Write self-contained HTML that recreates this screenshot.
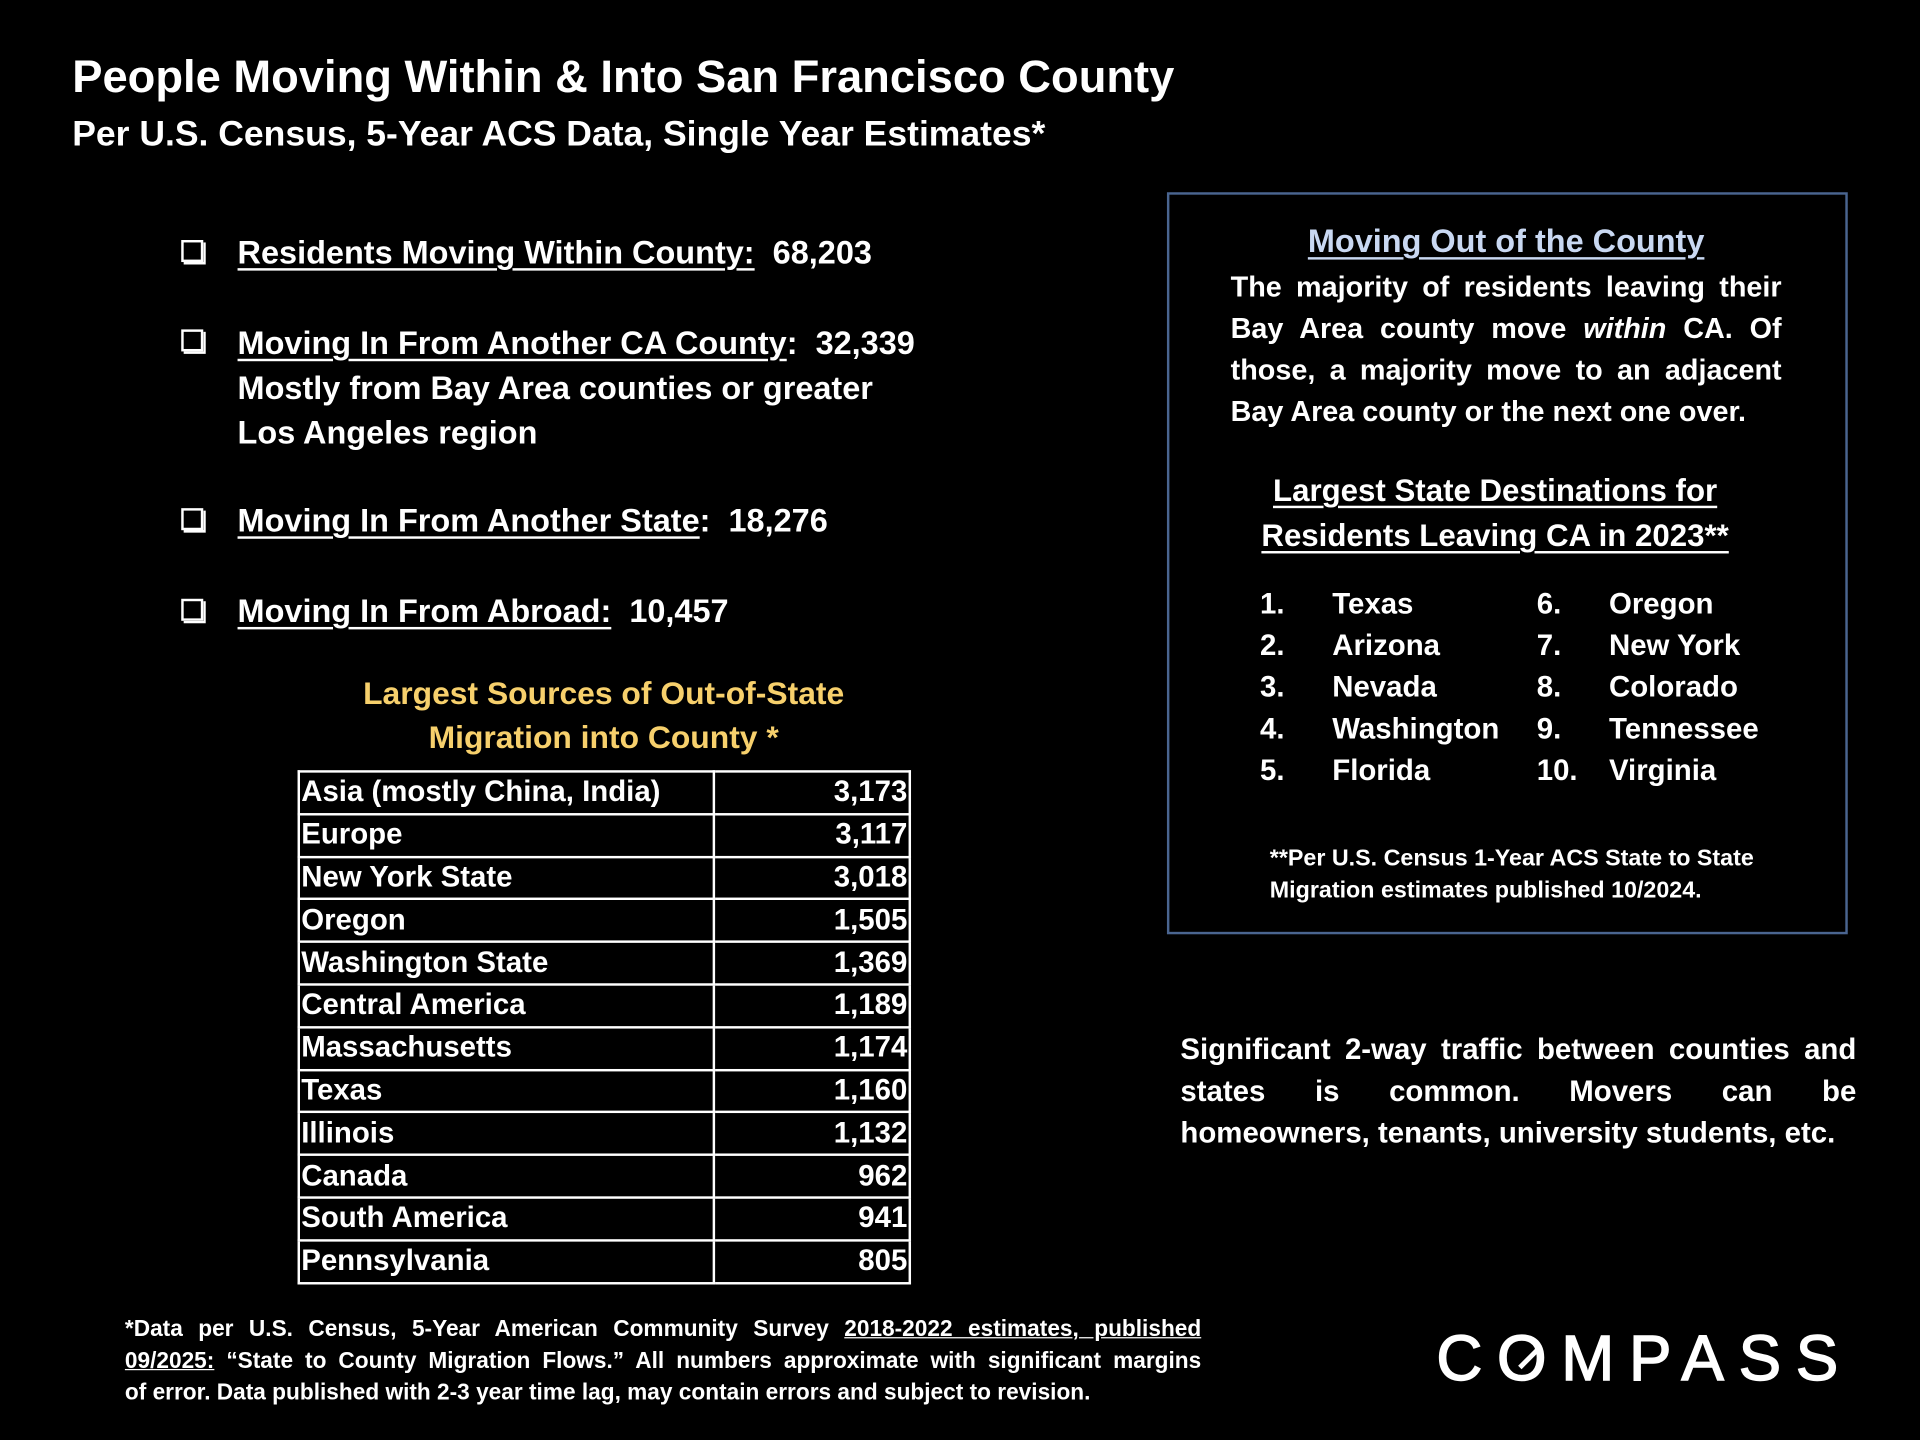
<!DOCTYPE html>
<html><head><meta charset="utf-8">
<style>
html,body{margin:0;padding:0;background:#000;width:1920px;height:1440px;overflow:hidden}
#stage{position:absolute;left:0;top:0;width:1568px;height:1176px;transform:scale(1.22449);transform-origin:0 0;font-family:"Liberation Sans",sans-serif;font-weight:bold;color:#fff}
.a{position:absolute;white-space:nowrap}
.u{text-decoration:underline;text-decoration-thickness:2px;text-underline-offset:4px}
.cb{position:absolute;width:14px;height:14px;border:2px solid #fff;box-shadow:2px 2px 0 #fff}
.jl{text-align:justify;text-align-last:justify;white-space:nowrap}
.ll{text-align:left;white-space:nowrap}
table{border-collapse:collapse}
td{border:2px solid #fff;height:32.8px;padding:0 1px;font-size:24px;line-height:32px}
</style></head><body>
<div id="stage">
<div class="a" style="left:59px;top:42px;font-size:37px">People Moving Within &amp; Into San Francisco County</div>
<div class="a" style="left:59px;top:94px;font-size:29px">Per U.S. Census, 5-Year ACS Data, Single Year Estimates*</div>

<div>
<div class="cb" style="left:148px;top:196px"></div>
<div class="a" style="left:194px;top:191px;font-size:26.5px"><span class="u">Residents Moving Within County:</span>&nbsp; 68,203</div></div>
<div>
<div class="cb" style="left:148px;top:269px"></div>
<div class="a" style="left:194px;top:262px;font-size:26.5px;line-height:36.5px"><span class="u">Moving In From Another CA County</span>:&nbsp; 32,339<br>Mostly from Bay Area counties or greater<br>Los Angeles region</div></div>
<div>
<div class="cb" style="left:148px;top:415px"></div>
<div class="a" style="left:194px;top:410px;font-size:26.5px"><span class="u">Moving In From Another State</span>:&nbsp; 18,276</div></div>
<div>
<div class="cb" style="left:148px;top:489px"></div>
<div class="a" style="left:194px;top:484px;font-size:26.5px"><span class="u">Moving In From Abroad:</span>&nbsp; 10,457</div></div>

<div class="a" style="left:243px;top:548px;width:500px;text-align:center;font-size:26px;line-height:36px;color:#f7d06c">Largest Sources of Out-of-State<br>Migration into County *</div>
<table id="tbl" style="position:absolute;left:243px;top:629px;width:501px"><tbody id="tb"></tbody></table>

<div style="position:absolute;left:953px;top:157px;width:552px;height:602px;border:2px solid #4a6590"></div>
<div class="a u" style="left:1030px;top:182px;width:400px;text-align:center;font-size:26.5px;color:#c9d8f2">Moving Out of the County</div>
<div class="a" style="left:1005px;top:217px;width:450px;font-size:23.5px;line-height:34px">
<div class="jl">The majority of residents leaving their</div>
<div class="jl">Bay Area county move <i>within</i> CA. Of</div>
<div class="jl">those, a majority move to an adjacent</div>
<div class="ll">Bay Area county or the next one over.</div></div>
<div class="a" style="left:1000px;top:383px;width:442px;text-align:center;font-size:25.5px;line-height:37px"><span class="u">Largest State Destinations for</span><br><span class="u">Residents Leaving CA in 2023**</span></div>
<div id="dest"></div>
<div class="a" style="left:1037px;top:689px;font-size:19px;line-height:26px">**Per U.S. Census 1-Year ACS State to State<br>Migration estimates published 10/2024.</div>

<div class="a" style="left:964px;top:841px;width:552px;font-size:24px;line-height:34px">
<div class="jl">Significant 2-way traffic between counties and</div>
<div class="jl">states is common. Movers can be</div>
<div class="ll">homeowners, tenants, university students, etc.</div></div>

<div class="a" style="left:102px;top:1072px;width:879px;font-size:18.5px;line-height:26px">
<div class="jl">*Data per U.S. Census, 5-Year American Community Survey <span style="text-decoration:underline">2018-2022 estimates, published</span></div>
<div class="jl"><span style="text-decoration:underline">09/2025:</span> “State to County Migration Flows.” All numbers approximate with significant margins</div>
<div class="ll">of error. Data published with 2-3 year time lag, may contain errors and subject to revision.</div></div>

<div class="a" style="left:1173px;top:1082px;font-size:52px;font-weight:normal;letter-spacing:12px;line-height:56px;-webkit-text-stroke:1.2px #fff">C<span style="position:relative;display:inline-block">O<span style="position:absolute;left:15px;top:25px;width:22px;height:4px;background:#fff;transform:rotate(-45deg)"></span></span>MPASS</div>
</div>
<script>
const sources=["Asia (mostly China, India)","Europe","New York State","Oregon","Washington State","Central America","Massachusetts","Texas","Illinois","Canada","South America","Pennsylvania"];
const counts=[3173,3117,3018,1505,1369,1189,1174,1160,1132,962,941,805];
const destRanks=[1,2,3,4,5,6,7,8,9,10];
const destStates=["Texas","Arizona","Nevada","Washington","Florida","Oregon","New York","Colorado","Tennessee","Virginia"];
const tb=document.getElementById('tb');
sources.forEach((s,i)=>{
  const tr=document.createElement('tr');
  
  
  const a=document.createElement('td');a.textContent=s;a.style.width='335px';
  
  
  const b=document.createElement('td');b.textContent=counts[i].toLocaleString('en-US');b.style.textAlign='right';
  
  
  tr.appendChild(a);tr.appendChild(b);tb.appendChild(tr);
});
const dest=document.getElementById('dest');
destStates.forEach((s,i)=>{
  const col=Math.floor(i/5),row=i%5;
  const n=document.createElement('div');n.className='a';
  
  
  n.textContent=destRanks[i]+'.';
  n.style.cssText=`left:${1029+col*226}px;top:${480+row*34}px;font-size:24px`;
  const t=document.createElement('div');t.className='a';
  
  
  t.textContent=s;
  t.style.cssText=`left:${1088+col*226}px;top:${480+row*34}px;font-size:24px`;
  dest.appendChild(n);dest.appendChild(t);
});
</script>
</body></html>
